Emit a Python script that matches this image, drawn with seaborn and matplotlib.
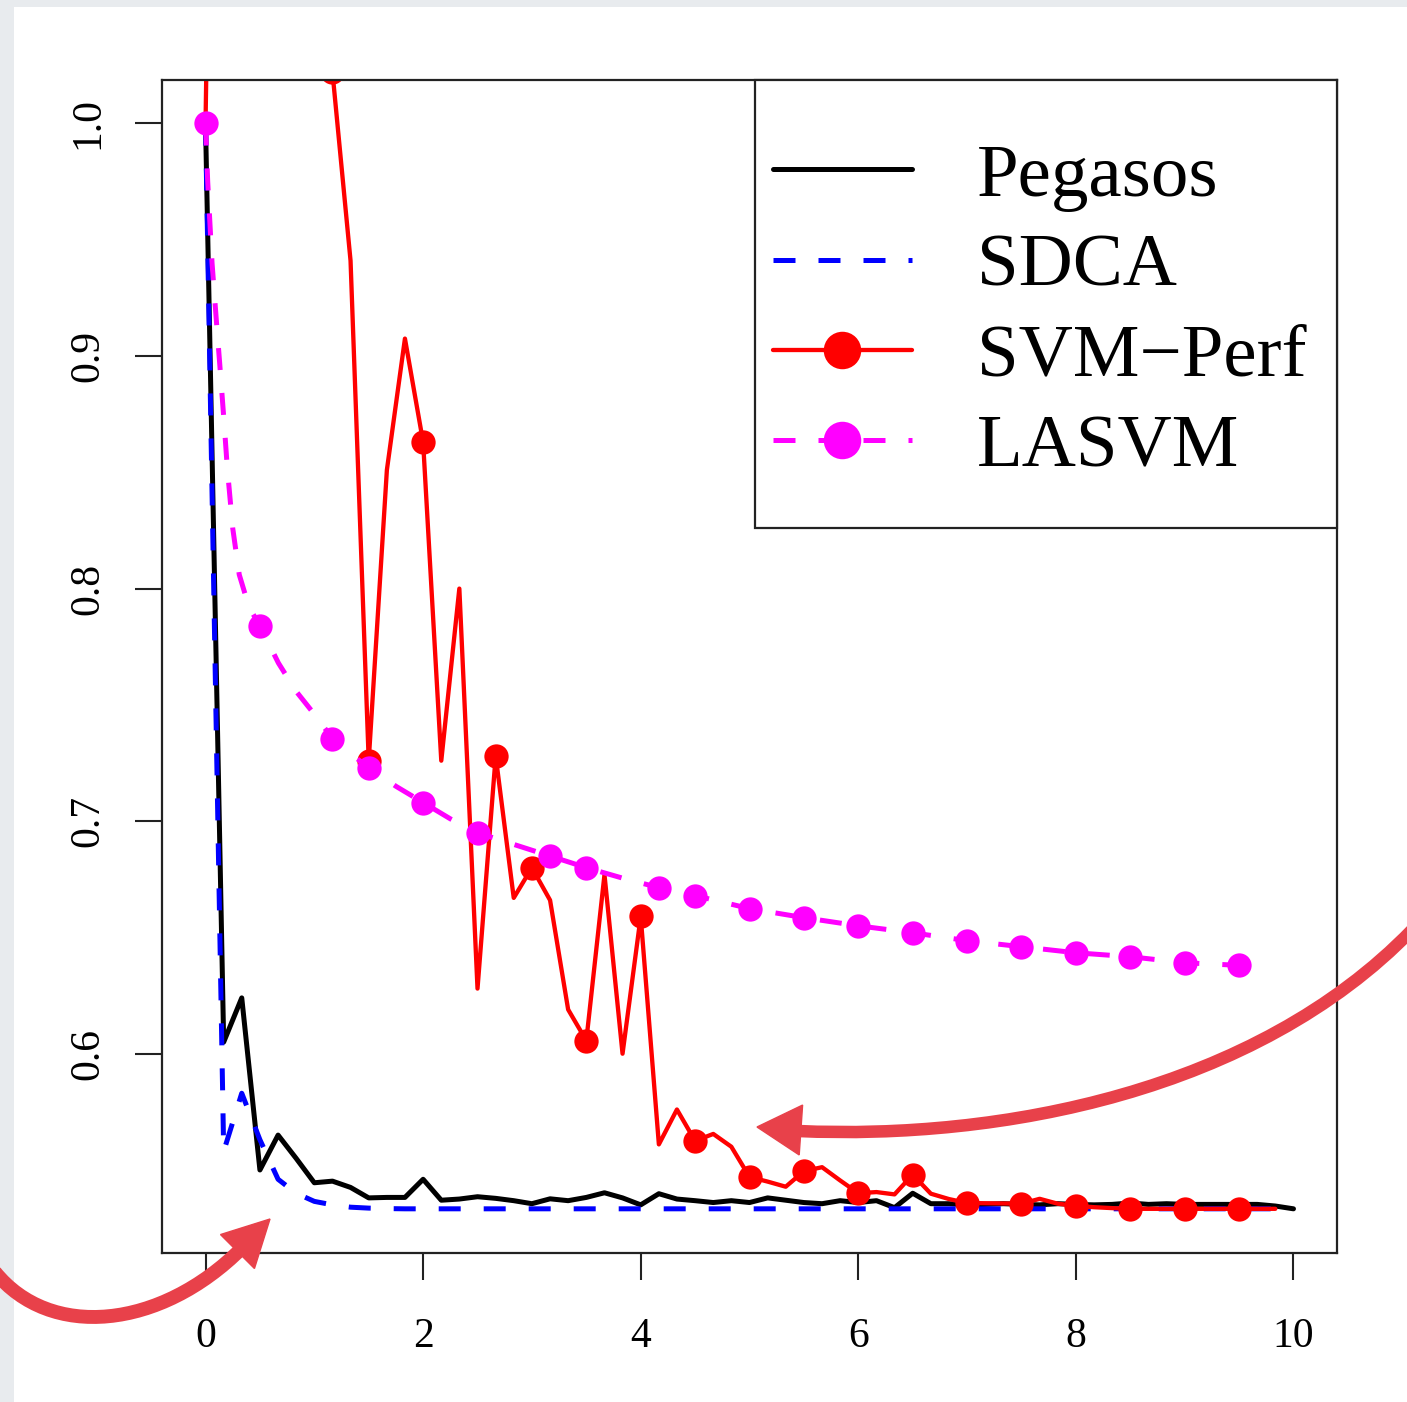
import matplotlib
matplotlib.use("Agg")
import matplotlib.pyplot as plt
from matplotlib.patches import Rectangle, PathPatch, Polygon
from matplotlib.path import Path
import numpy as np
import pandas as pd
import seaborn as sns

# ---------------- data ----------------
X = [0, 0.167, 0.333, 0.5, 0.667, 0.833, 1.0, 1.167, 1.333, 1.5, 1.667, 1.833,
     2.0, 2.167, 2.333, 2.5, 2.667, 2.833, 3.0, 3.167, 3.333, 3.5, 3.667, 3.833,
     4.0, 4.167, 4.333, 4.5, 4.667, 4.833, 5.0, 5.167, 5.333, 5.5, 5.667, 5.833,
     6.0, 6.167, 6.333, 6.5, 6.667, 6.833, 7.0, 7.167, 7.333, 7.5, 7.667, 7.833,
     8.0, 8.167, 8.333, 8.5, 8.667, 8.833, 9.0, 9.167, 9.333, 9.5, 9.667, 9.833, 10.0]

pegasos = [1.0, 0.605, 0.624, 0.550, 0.565, 0.555, 0.5445, 0.5452, 0.5425, 0.538,
           0.5382, 0.5382, 0.546, 0.537, 0.5375, 0.5385, 0.5378, 0.5368, 0.5355, 0.5376,
           0.5368, 0.5382, 0.5402, 0.538, 0.535, 0.5398, 0.5375, 0.5368, 0.536, 0.5368,
           0.536, 0.538, 0.537, 0.536, 0.5355, 0.5368, 0.536, 0.5368, 0.5338, 0.540,
           0.5355, 0.5355, 0.535, 0.5352, 0.5355, 0.5352, 0.535, 0.5355, 0.5352, 0.535,
           0.5352, 0.5358, 0.5352, 0.5355, 0.5352, 0.5352, 0.5352, 0.5352, 0.5352, 0.5345,
           0.5333]

sdca = [1.0, 0.558, 0.583, 0.563, 0.546, 0.540, 0.5365, 0.535, 0.534, 0.5336,
        0.5334, 0.5333, 0.5333, 0.5333, 0.5333, 0.5333, 0.5333, 0.5333, 0.5333, 0.5333,
        0.5333, 0.5333, 0.5333, 0.5333, 0.5333, 0.5333, 0.5333, 0.5333, 0.5333, 0.5333,
        0.5333, 0.5333, 0.5333, 0.5333, 0.5333, 0.5333, 0.5333, 0.5333, 0.5333, 0.5333,
        0.5333, 0.5333, 0.5333, 0.5333, 0.5333, 0.5333, 0.5333, 0.5333, 0.5333, 0.5333,
        0.5333, 0.5333, 0.5333, 0.5333, 0.5333, 0.5333, 0.5333, 0.5333, 0.5333, 0.5333,
        0.5333]

svmperf = [1.0, 1.5, 1.6, 1.5, 1.4, 1.3, 1.2, 1.022, 0.941, 0.726,
           0.851, 0.9075, 0.863, 0.726, 0.800, 0.628, 0.728, 0.667, 0.680, 0.666,
           0.619, 0.6056, 0.677, 0.600, 0.659, 0.561, 0.576, 0.5625, 0.5655, 0.560,
           0.547, 0.545, 0.5428, 0.5495, 0.5512, 0.5455, 0.540, 0.5405, 0.5395, 0.548,
           0.5398, 0.5375, 0.5358, 0.5357, 0.5356, 0.5355, 0.5376, 0.5355, 0.5346, 0.534,
           0.5336, 0.5333, 0.5333, 0.5333, 0.5333, 0.5333, 0.5333, 0.5333, 0.5333, 0.5333]
svmperf_markers = [7, 9, 12, 16, 18, 21, 24, 27, 30, 33, 36, 39, 42, 45, 48, 51, 54, 57]

lasvm_x = [0, 0.02, 0.06, 0.1, 0.13, 0.17, 0.2, 0.25, 0.31, 0.4, 0.5, 0.67, 0.83,
           1.0, 1.167, 1.333, 1.5, 1.75, 2.0, 2.25, 2.5, 2.833, 3.167, 3.5, 3.833,
           4.167, 4.5, 5.0, 5.5, 6.0, 6.5, 7.0, 7.5, 8.0, 8.5, 9.0, 9.5, 9.75]
lasvm = [1.0, 0.975, 0.94, 0.915, 0.897, 0.872, 0.852, 0.826, 0.806, 0.792, 0.784,
         0.768, 0.756, 0.746, 0.7355, 0.729, 0.723, 0.715, 0.708, 0.701, 0.695,
         0.690, 0.685, 0.680, 0.6755, 0.6714, 0.668, 0.6624, 0.6585, 0.655, 0.652,
         0.6486, 0.646, 0.6434, 0.6417, 0.6391, 0.638, 0.6368]
lasvm_markers = [0, 10, 14, 16, 18, 20, 22, 23, 25, 26, 27, 28, 29, 30, 31, 32,
                 33, 34, 35, 36]

labels = ["Pegasos", "SDCA", "SVM\u2212Perf", "LASVM"]
x_ticks = [0, 2, 4, 6, 8, 10]
y_ticks = [0.6, 0.7, 0.8, 0.9, 1.0]
y_ticklabels = ["0.6", "0.7", "0.8", "0.9", "1.0"]

# ---------------- figure ----------------
W, H = 1407, 1402
sns.set_style("ticks")
plt.rcParams["font.family"] = ["Liberation Serif", "DejaVu Serif"]

fig = plt.figure(figsize=(W / 100, H / 100), dpi=100, facecolor="#e8ebee")
fig.patches.append(Rectangle((14 / W, 0), 1, 1 - 7 / H, transform=fig.transFigure,
                             facecolor="white", edgecolor="none", zorder=-10))

ax = fig.add_axes([162 / W, 1 - 1253 / H, 1175 / W, 1173 / H])
ax.set_facecolor("white")

LW = 3.6
MS = 17.5
dash = [4.4, 4.6]

sns.lineplot(x=X, y=pegasos, ax=ax, color="black", lw=LW, label=labels[0], sort=False)
sns.lineplot(x=X, y=sdca, ax=ax, color="blue", lw=LW, label=labels[1], sort=False)
ax.lines[-1].set_dashes(dash)
sns.lineplot(x=X[:len(svmperf)], y=svmperf, ax=ax, color="red", lw=3.1, label=labels[2],
             sort=False, marker="o", markersize=MS, markevery=svmperf_markers,
             markeredgewidth=0, markeredgecolor="red")
sns.lineplot(x=lasvm_x, y=lasvm, ax=ax, color="magenta", lw=LW, label=labels[3],
             sort=False, marker="o", markersize=MS, markevery=lasvm_markers,
             markeredgewidth=0, markeredgecolor="magenta")
ax.lines[-1].set_dashes(dash)

ax.set_xlim(-0.4, 10.4)
ax.set_ylim(0.5143, 1.0187)
ax.set_xticks(x_ticks)
ax.set_xticklabels([str(t) for t in x_ticks])
ax.set_yticks(y_ticks)
ax.set_yticklabels(y_ticklabels)
for lbl in ax.get_yticklabels():
    lbl.set_rotation(90)
    lbl.set_va("center")
ax.tick_params(axis="both", direction="out", length=19.5, width=1.5, color="#222222",
               labelsize=30, labelcolor="black")
ax.tick_params(axis="x", pad=27)
ax.tick_params(axis="y", pad=20)
for s in ax.spines.values():
    s.set_visible(True)
    s.set_color("#222222")
    s.set_linewidth(1.6)
ax.set_xlabel("")
ax.set_ylabel("")

# legend box (frame drawn separately)
ax.add_patch(Rectangle((593 / 1175, 725 / 1173), 1 - 593 / 1175, 1 - 725 / 1173,
                       transform=ax.transAxes, facecolor="white", edgecolor="#222222",
                       lw=1.6, zorder=5, clip_on=False))
leg = ax.legend(loc="upper left", bbox_to_anchor=(773 / W, 1 - 143 / H),
                bbox_transform=fig.transFigure, frameon=False, fontsize=54,
                handlelength=1.85, handletextpad=0.87, labelspacing=0.29,
                borderpad=0, borderaxespad=0, numpoints=1)
leg.set_zorder(6)
for h in leg.legend_handles:
    h.set_markersize(27)
for t in leg.get_texts():
    t.set_color("black")

# ---------------- annotation arrows ----------------
ARROW = "#e8414a"

def fp(x, y):
    return (x / W, 1 - y / H)

def curve(pts, lw):
    verts = [fp(*p) for p in pts]
    codes = [Path.MOVETO, Path.CURVE4, Path.CURVE4, Path.CURVE4]
    fig.patches.append(PathPatch(Path(verts, codes), transform=fig.transFigure,
                                 facecolor="none", edgecolor=ARROW, lw=lw,
                                 capstyle="butt", zorder=20))

def head(tip, d, length, half):
    d = np.array(d, float)
    d /= np.linalg.norm(d)
    n = np.array([-d[1], d[0]])
    tip = np.array(tip, float)
    base = tip - length * d
    pts = [tip, base + half * n, base - half * n]
    fig.patches.append(Polygon([fp(*p) for p in pts], closed=True,
                               transform=fig.transFigure, facecolor=ARROW,
                               edgecolor=ARROW, lw=1, zorder=21))

curve([(-5, 1272), (50, 1340), (160, 1330), (242, 1248)], 10)
head((270, 1219), (31, -31), 46, 24)

curve([(1412, 930), (1255, 1092), (1000, 1140), (798, 1131)], 9)
head((757, 1127), (-44, -3), 44, 25)

fig.savefig("out.png", dpi=100, facecolor=fig.get_facecolor())
